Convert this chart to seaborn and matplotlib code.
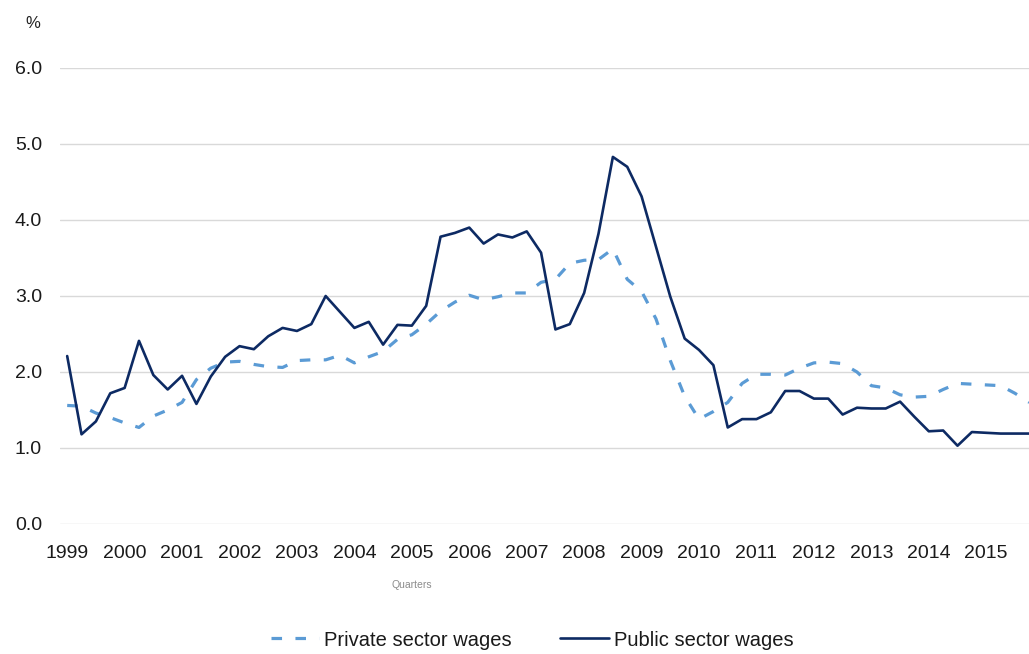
import numpy as np
import pandas as pd
import matplotlib
matplotlib.use("Agg")
import matplotlib.pyplot as plt
import seaborn as sns

# Quarterly data, 1999Q1 .. 2015Q4
years = list(range(1999, 2016))
quarters = [f"{y}Q{q}" for y in years for q in range(1, 5)]

private_wages = [
    1.56, 1.55, 1.46, 1.40, 1.33, 1.27, 1.42, 1.50,   # 1999-2000
    1.60, 1.90, 2.05, 2.13, 2.14, 2.10, 2.07, 2.06,   # 2001-2002
    2.15, 2.16, 2.16, 2.22, 2.12, 2.20, 2.27, 2.43,   # 2003-2004
    2.49, 2.63, 2.80, 2.92, 3.01, 2.95, 2.99, 3.04,   # 2005-2006
    3.04, 3.18, 3.22, 3.43, 3.47, 3.48, 3.62, 3.22,   # 2007-2008
    3.06, 2.70, 2.15, 1.68, 1.38, 1.48, 1.60, 1.85,   # 2009-2010
    1.97, 1.97, 1.96, 2.05, 2.12, 2.13, 2.11, 2.00,   # 2011-2012
    1.82, 1.79, 1.70, 1.67, 1.68, 1.77, 1.85, 1.84,   # 2013-2014
    1.83, 1.82, 1.72, 1.60,                           # 2015
]
public_wages = [
    2.21, 1.18, 1.35, 1.72, 1.79, 2.41, 1.96, 1.77,
    1.95, 1.58, 1.94, 2.20, 2.34, 2.30, 2.47, 2.58,
    2.54, 2.63, 3.00, 2.79, 2.58, 2.66, 2.36, 2.62,
    2.61, 2.87, 3.78, 3.83, 3.90, 3.69, 3.81, 3.77,
    3.85, 3.57, 2.56, 2.63, 3.04, 3.82, 4.83, 4.70,
    4.31, 3.65, 2.99, 2.44, 2.29, 2.09, 1.27, 1.38,
    1.38, 1.47, 1.75, 1.75, 1.65, 1.65, 1.44, 1.53,
    1.52, 1.52, 1.61, 1.41, 1.22, 1.23, 1.03, 1.21,
    1.20, 1.19, 1.19, 1.19,
]
series_names = ["Private sector wages", "Public sector wages"]
y_ticks = [0, 1, 2, 3, 4, 5, 6]

n = len(quarters)
df = pd.DataFrame({
    "idx": list(range(n)) * 2,
    "value": private_wages + public_wages,
    "series": [series_names[0]] * n + [series_names[1]] * n,
})

sns.set_theme(style="white")
plt.rcParams["font.family"] = ["Liberation Sans", "DejaVu Sans"]

W, H = 1029, 654
fig = plt.figure(figsize=(W / 100, H / 100), dpi=100)
left, right, top, bottom = 60, 1036.5, 68, 524
ax = fig.add_axes([left / W, 1 - bottom / H, (right - left) / W, (bottom - top) / H])

palette = {series_names[0]: "#5B9BD5", series_names[1]: "#0D2A63"}
dashes = {series_names[0]: (3.3, 4.2), series_names[1]: ""}
sns.lineplot(data=df, x="idx", y="value", hue="series", style="series",
             palette=palette, dashes=dashes, linewidth=2.0, ax=ax, legend=True)

for line in ax.get_lines():
    ls = line.get_linestyle()
    if ls not in ("-", "solid"):
        line.set_linewidth(2.3)
    else:
        line.set_linewidth(1.9)

ax.set_xlim(-0.5, n - 0.5)
ax.set_ylim(0, 6)
ax.set_yticks(y_ticks)
ax.set_yticklabels([f"{v:.1f}" for v in y_ticks], fontsize=14, color="#1a1a1a")
ax.set_xticks(list(range(0, n, 4)))
ax.set_xticklabels([str(y) for y in years], fontsize=14, color="#1a1a1a")
ax.tick_params(axis="x", length=0, pad=15)
ax.tick_params(axis="y", length=0, pad=13)
ax.grid(axis="y", color="#D9D9D9", linewidth=1.0)
ax.grid(axis="x", visible=False)
for s in ax.spines.values():
    s.set_visible(False)
ax.set_xlabel("")
ax.set_ylabel("")

fig.text(33 / W, 1 - 23 / H, "%", fontsize=12, ha="center", va="center", color="#222222")
fig.text(412 / W, 1 - 585 / H, "Quarters", fontsize=7.5, ha="center", va="center", color="#8c8c8c")

handles, labels = ax.get_legend_handles_labels()
ax.get_legend().remove()
for h in handles:
    if h.get_linestyle() not in ("-", "solid"):
        h.set_linewidth(2.3)
    else:
        h.set_linewidth(1.9)
fig.legend(handles, labels, loc="center", bbox_to_anchor=(532 / W, 1 - 640 / H),
           ncol=2, frameon=False, fontsize=14.5, handlelength=2.4, handletextpad=0.25,
           columnspacing=2.4, labelcolor="#1a1a1a", borderpad=0.1)

fig.savefig("out.png", dpi=100)
